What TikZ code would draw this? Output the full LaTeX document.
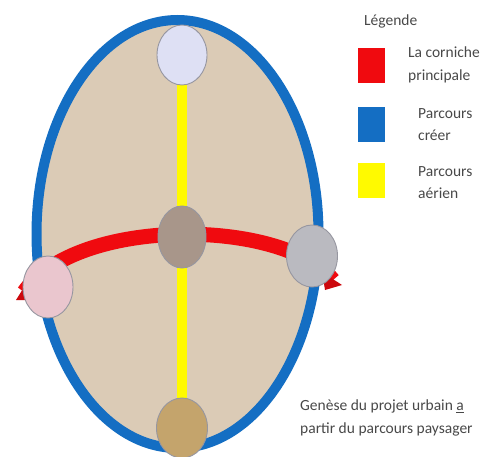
\documentclass[tikz,border=0pt]{standalone}
\usepackage{fontspec}
\setmainfont{Carlito}
\usetikzlibrary{shapes.geometric}
\pgfdeclarelayer{bg}
\pgfdeclarelayer{mid}
\pgfsetlayers{bg,mid,main}
\definecolor{sand}{RGB}{219,203,182}
\definecolor{ringblue}{RGB}{20,110,195}
\definecolor{cornred}{RGB}{240,10,15}
\definecolor{airyellow}{RGB}{255,250,0}
\definecolor{txt}{RGB}{72,72,72}
\definecolor{edgegray}{RGB}{150,150,160}
\definecolor{lav}{RGB}{222,224,244}
\definecolor{mud}{RGB}{168,150,138}
\definecolor{stone}{RGB}{186,186,192}
\definecolor{rose}{RGB}{234,198,206}
\definecolor{ochre}{RGB}{196,164,108}
\tikzset{
  blob/.style={ellipse, draw=edgegray, line width=0.9pt, inner sep=0pt,
    minimum width=50pt, minimum height=60pt},
  legsq/.style={minimum width=27pt, minimum height=35pt, inner sep=0pt, anchor=north west},
  legtxt/.style={font=\fontsize{15.5}{22.5}\selectfont, text=txt, align=left, inner sep=0pt},
}
\begin{document}
\begin{tikzpicture}[x=1pt,y=-1pt]
\useasboundingbox (0,0) rectangle (492,457);

% main nodes
\node[blob, fill=lav] (top) at (182,55) {};
\node[blob, fill=mud, minimum height=62pt, minimum width=48pt] (mid) at (182,237) {};
\node[blob, fill=stone, minimum width=51pt, minimum height=62pt] (right) at (312,256) {};
\node[blob, fill=rose, minimum height=62pt] (left) at (48,287) {};
\node[blob, fill=ochre, minimum width=51pt] (bot) at (182,428) {};

\begin{pgfonlayer}{bg}
  \draw[ringblue, line width=10pt, fill=sand] (177.5,234) ellipse [x radius=141, y radius=214];
\end{pgfonlayer}
\begin{pgfonlayer}{mid}
  \draw[airyellow, line width=10pt] (top.center) -- (bot.center);
  \coordinate (rl) at (24,292);
  \coordinate (rr) at (333,280);
  \draw[cornred, line width=15pt] (rl) .. controls (77,216) and (283,218) .. (rr);
  \fill[cornred!85!black] (16,300) -- (26,284) -- (34,300) -- cycle;
  \fill[cornred!85!black] (342,285) -- (322,272) -- (325,290) -- cycle;
\end{pgfonlayer}

% legend
\node[legtxt, anchor=west] (legtitle) at (364,21) {Légende};
\node[legsq, fill=cornred] (sqred) at (358,48) {};
\node[legsq, fill=ringblue] (sqblue) at (358,107) {};
\node[legsq, fill=airyellow] (sqyellow) at (358,163) {};
\node[legtxt, anchor=north west] (lred) at (408,47) {La corniche\\principale};
\node[legtxt, anchor=north west] (lblue) at (418,108) {Parcours\\créer};
\node[legtxt, anchor=north west] (lyellow) at (418,166) {Parcours\\aérien};

\node[legtxt, anchor=north west] (caption) at (300,400) {Genèse du projet urbain \underline{a}\\partir du parcours paysager};
\end{tikzpicture}
\end{document}
